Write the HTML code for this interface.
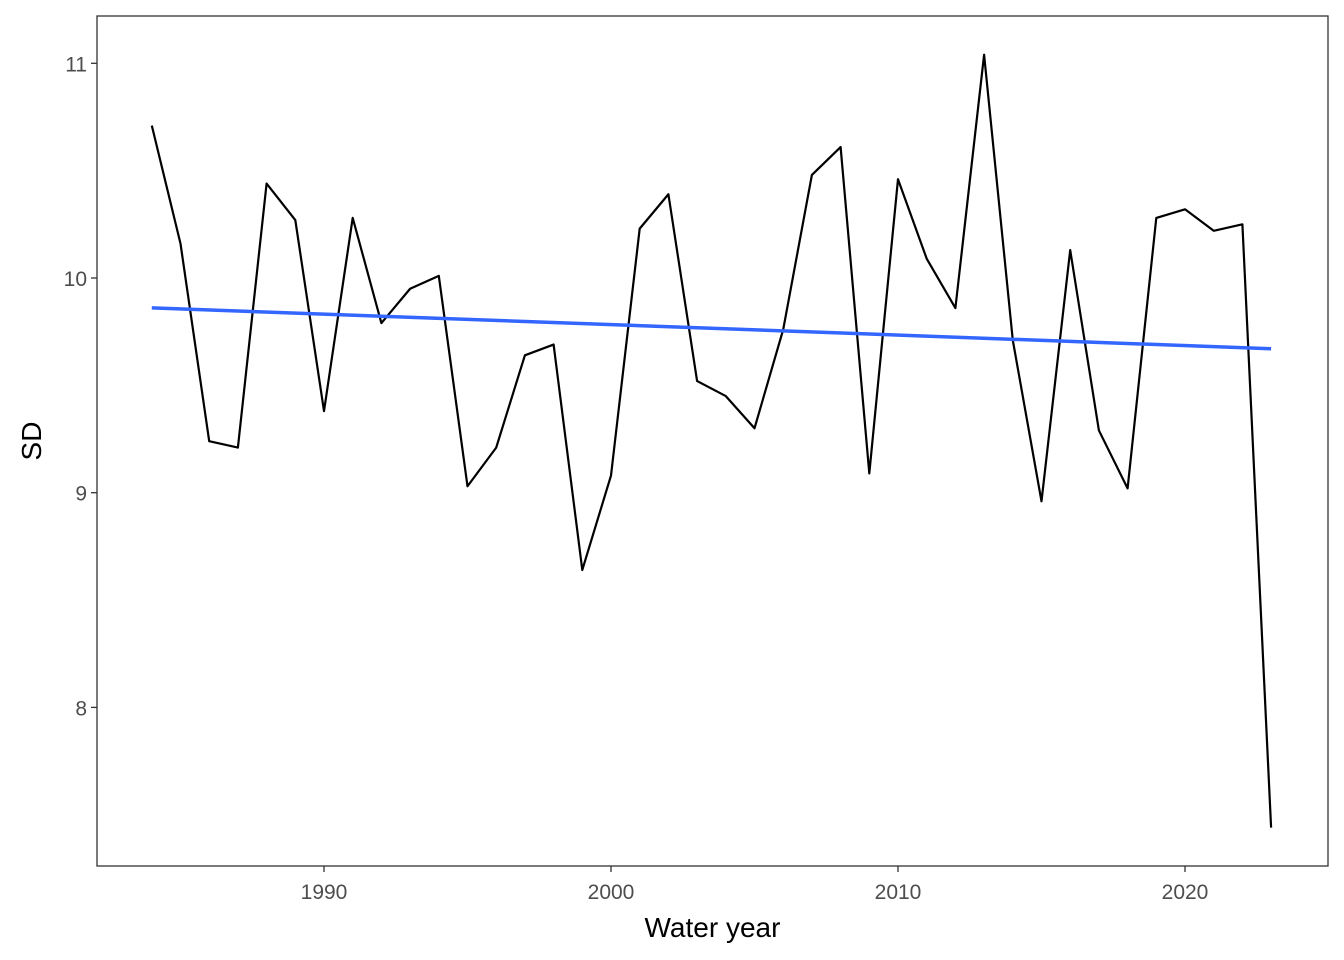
<!DOCTYPE html>
<html><head><meta charset="utf-8"><style>
body{margin:0;background:#fff;}
svg{display:block;font-family:"Liberation Sans",sans-serif;}
</style></head><body>
<svg id="chart" width="1344" height="960"></svg>
<script>
const years=[1984,1985,1986,1987,1988,1989,1990,1991,1992,1993,1994,1995,1996,1997,1998,1999,2000,2001,2002,2003,2004,2005,2006,2007,2008,2009,2010,2011,2012,2013,2014,2015,2016,2017,2018,2019,2020,2021,2022,2023];
const sdValues=[10.71,10.16,9.24,9.21,10.44,10.27,9.38,10.28,9.79,9.95,10.01,9.03,9.21,9.64,9.69,8.64,9.08,10.23,10.39,9.52,9.45,9.30,9.76,10.48,10.61,9.09,10.46,10.09,9.86,11.04,9.71,8.96,10.13,9.29,9.02,10.28,10.32,10.22,10.25,7.44];
const xTicks=[1990,2000,2010,2020];
const yTicks=[8,9,10,11];

const NS="http://www.w3.org/2000/svg";
const svg=document.getElementById('chart');
const L=97,T=16,R=1328,B=866;
const x=v=>324+(v-1990)*28.7;
const y=v=>278-(v-10)*214.7;
function mk(tag,attrs,parent){const e=document.createElementNS(NS,tag);for(const k in attrs)e.setAttribute(k,attrs[k]);(parent||svg).appendChild(e);return e;}

const panel=mk('rect',{x:L,y:T,width:R-L,height:B-T,fill:'#fff',stroke:'#333','stroke-width':1.3});



xTicks.forEach(t=>{
  const l=mk('line',{x1:x(t),x2:x(t),y1:B,y2:B+6,stroke:'#333','stroke-width':1.3});
  
  
  const tx=mk('text',{x:x(t),y:B+33,'text-anchor':'middle','font-size':21,fill:'#4d4d4d'});
  tx.textContent=t;
  
  
});
yTicks.forEach(t=>{
  const l=mk('line',{x1:L-6,x2:L,y1:y(t),y2:y(t),stroke:'#333','stroke-width':1.3});
  
  
  const tx=mk('text',{x:L-10,y:y(t)+8,'text-anchor':'end','font-size':21,fill:'#4d4d4d'});
  tx.textContent=t;
  
  
});

const line=mk('polyline',{points:years.map((yr,i)=>x(yr)+','+y(sdValues[i])).join(' '),fill:'none',stroke:'#000','stroke-width':2.2,'stroke-linejoin':'round'});



// linear regression
const n=years.length;
const mx=years.reduce((a,b)=>a+b,0)/n, my=sdValues.reduce((a,b)=>a+b,0)/n;
let sxy=0,sxx=0;years.forEach((v,i)=>{sxy+=(v-mx)*(sdValues[i]-my);sxx+=(v-mx)*(v-mx);});
const slope=sxy/sxx, icpt=my-slope*mx;
const x0=years[0],x1=years[n-1];
const trend=mk('line',{x1:x(x0),y1:y(icpt+slope*x0),x2:x(x1),y2:y(icpt+slope*x1),stroke:'#3366FF','stroke-width':3.5});



const xt=mk('text',{x:(L+R)/2,y:937,'text-anchor':'middle','font-size':28,fill:'#000'});
xt.textContent='Water year';


const yt=mk('text',{x:0,y:0,'text-anchor':'middle','font-size':28,fill:'#000',transform:'translate(41,441) rotate(-90)'});
yt.textContent='SD';


</script>
</body></html>
